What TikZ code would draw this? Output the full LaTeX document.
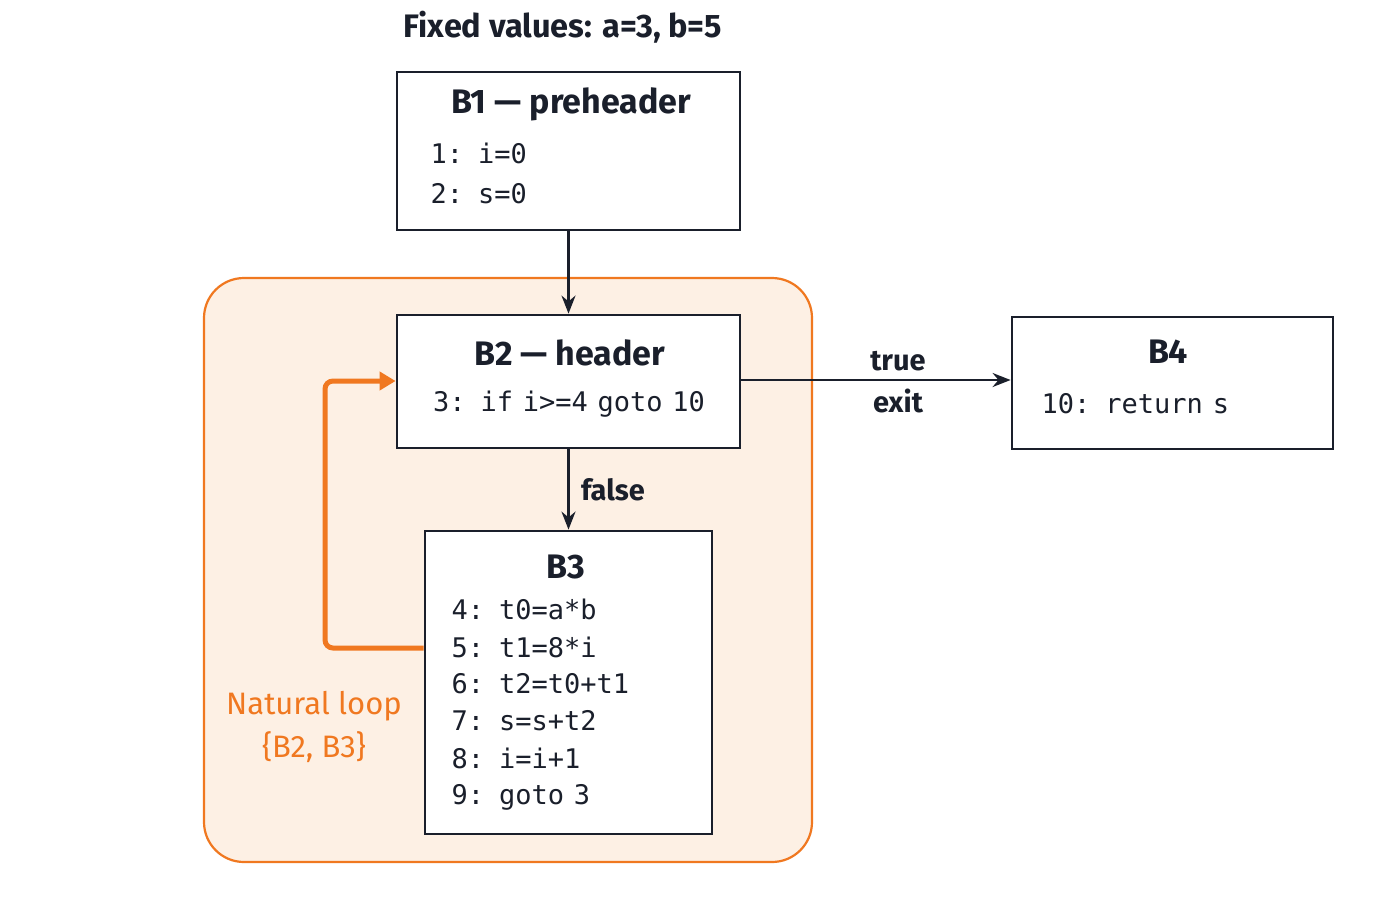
\documentclass[tikz,border=0pt]{standalone}
\usepackage{fontspec}
\setmainfont{Fira Sans}
\newfontfamily\codefont[WordSpace=0.6]{DejaVu Sans Mono}
\usetikzlibrary{arrows.meta}
\definecolor{orng}{HTML}{F07820}
\definecolor{orngfill}{HTML}{FDF0E4}
\definecolor{ink}{HTML}{1A1F2B}
\begin{document}
\begin{tikzpicture}[x=1pt,y=-1pt,
  blk/.style={draw=ink,line width=2.8pt},
  ttl/.style={font=\fontsize{34}{40}\selectfont\bfseries,text=ink},
  code/.style={font=\codefont\fontsize{27}{30}\selectfont,text=ink,anchor=west},
  lbl/.style={font=\fontsize{29}{32}\selectfont\bfseries,text=ink},
  arr/.style={draw=ink,line width=2.5pt,-{Stealth[length=18pt,width=14pt]}}]
\useasboundingbox (0,0) rectangle (1400,900);
\fill[white] (0,0) rectangle (1400,900);
\node[font=\fontsize{32.5}{36}\selectfont\bfseries,text=ink] (fix) at (563,27) {Fixed values: a=3, b=5};
\draw[orng,fill=orngfill,line width=2.2pt,rounded corners=40pt] (204,278) rectangle (812,862);
\node[blk,fill=white,minimum width=343pt,minimum height=158pt] (B1) at (568.5,151) {};
\node[ttl] (t1) at (571,104) {B1 — preheader};
\node[code] (c11) at (427,153) {1: i=0};
\node[code] (c12) at (427,194) {2: s=0};
\node[blk,fill=white,minimum width=343pt,minimum height=133pt] (B2) at (568.5,381.5) {};
\node[ttl] (t2) at (570,353) {B2 — header};
\node[code,anchor=center] (c21) at (569,404) {3: if i>=4 goto 10};
\node[blk,fill=white,minimum width=321pt,minimum height=132pt] (B4) at (1172.5,383) {};
\node[ttl] (t4) at (1168,352) {B4};
\node[code] (c41) at (1038,404) {10: return s};
\node[blk,fill=white,minimum width=287pt,minimum height=303pt] (B3) at (568.5,682.5) {};
\node[ttl] (t3) at (566,567) {B3};
\node[code] (c31) at (448,609) {4: t0=a*b};
\node[code] (c32) at (448,647) {5: t1=8*i};
\node[code] (c33) at (448,684) {6: t2=t0+t1};
\node[code] (c34) at (448,721) {7: s=s+t2};
\node[code] (c35) at (448,758) {8: i=i+1};
\node[code] (c36) at (448,797) {9: goto 3};
\draw[arr] (B1.south) -- (B2.north);
\draw[arr] (B2.south) -- (B3.north) node[lbl,midway,right=8pt] {false};
\draw[arr] (B2.east |- 0,380) -- (B4.west |- 0,380)
  node[lbl,midway,above=4pt,xshift=22pt] {true} node[lbl,midway,below=4pt,xshift=22pt] {exit};
\coordinate (ls) at (B3.west |- 0,648);
\coordinate (le) at (B2.west |- 0,381);
\draw[orng,line width=5pt,rounded corners=8pt,-{Triangle[length=16pt,width=18pt]}] (ls) -- (325,648) -- (325,381) -- (le);
\node[font=\fontsize{31}{43}\selectfont,text=orng,align=center] (nl) at (314,727) {Natural loop\\\{B2, B3\}};
\end{tikzpicture}
\end{document}
